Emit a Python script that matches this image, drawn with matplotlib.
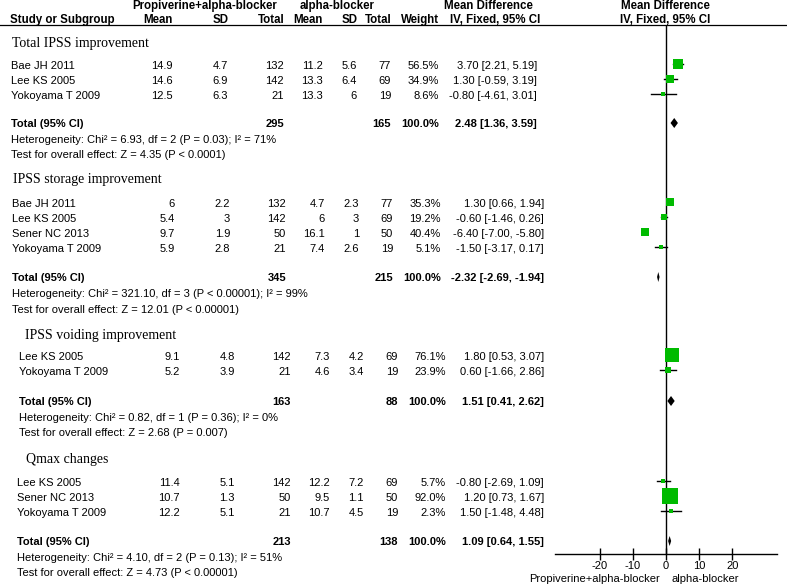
import numpy as np
import matplotlib
matplotlib.use("Agg")
import matplotlib.pyplot as plt

# ---- data ----
sections = ["Total IPSS improvement", "IPSS storage improvement",
            "IPSS voiding improvement", "Qmax changes"]
section_of = [0, 0, 0, 1, 1, 1, 1, 2, 2, 3, 3, 3]
studies = ["Bae JH 2011", "Lee KS 2005", "Yokoyama T 2009",
           "Bae JH 2011", "Lee KS 2005", "Sener NC 2013", "Yokoyama T 2009",
           "Lee KS 2005", "Yokoyama T 2009",
           "Lee KS 2005", "Sener NC 2013", "Yokoyama T 2009"]
exp_mean = ["14.9", "14.6", "12.5", "6", "5.4", "9.7", "5.9", "9.1", "5.2", "11.4", "10.7", "12.2"]
exp_sd = ["4.7", "6.9", "6.3", "2.2", "3", "1.9", "2.8", "4.8", "3.9", "5.1", "1.3", "5.1"]
exp_n = [132, 142, 21, 132, 142, 50, 21, 142, 21, 142, 50, 21]
ctl_mean = ["11.2", "13.3", "13.3", "4.7", "6", "16.1", "7.4", "7.3", "4.6", "12.2", "9.5", "10.7"]
ctl_sd = ["5.6", "6.4", "6", "2.3", "3", "1", "2.6", "4.2", "3.4", "7.2", "1.1", "4.5"]
ctl_n = [77, 69, 19, 77, 69, 50, 19, 69, 19, 69, 50, 19]
weight = [56.5, 34.9, 8.6, 35.3, 19.2, 40.4, 5.1, 76.1, 23.9, 5.7, 92.0, 2.3]
md = [3.70, 1.30, -0.80, 1.30, -0.60, -6.40, -1.50, 1.80, 0.60, -0.80, 1.20, 1.50]
ci_lo = [2.21, -0.59, -4.61, 0.66, -1.46, -7.00, -3.17, 0.53, -1.66, -2.69, 0.73, -1.48]
ci_hi = [5.19, 3.19, 3.01, 1.94, 0.26, -5.80, 0.17, 3.07, 2.86, 1.09, 1.67, 4.48]

tot_exp_n = [295, 345, 163, 213]
tot_ctl_n = [165, 215, 88, 138]
tot_md = [2.48, -2.32, 1.51, 1.09]
tot_lo = [1.36, -2.69, 0.41, 0.64]
tot_hi = [3.59, -1.94, 2.62, 1.55]
heterogeneity = ["Heterogeneity: Chi\u00b2 = 6.93, df = 2 (P = 0.03); I\u00b2 = 71%",
                 "Heterogeneity: Chi\u00b2 = 321.10, df = 3 (P < 0.00001); I\u00b2 = 99%",
                 "Heterogeneity: Chi\u00b2 = 0.82, df = 1 (P = 0.36); I\u00b2 = 0%",
                 "Heterogeneity: Chi\u00b2 = 4.10, df = 2 (P = 0.13); I\u00b2 = 51%"]
overall = ["Test for overall effect: Z = 4.35 (P < 0.0001)",
           "Test for overall effect: Z = 12.01 (P < 0.00001)",
           "Test for overall effect: Z = 2.68 (P = 0.007)",
           "Test for overall effect: Z = 4.73 (P < 0.00001)"]
xticks = [-20, -10, 0, 10, 20]

# ---- layout (pixels, y downwards) ----
W, H = 787, 586
title_y = [43, 180, 335, 459]
title_x = [12, 13, 25, 26]
row_y = [66, 81, 96, 204, 219, 234, 249, 357, 372, 483, 498, 513]
total_y = [124, 278, 402, 542]
het_y = [140, 294, 418, 558]
test_y = [155, 310, 433, 573]
name_x = [11, 12, 19, 17]
col_shift = [-2, 0, 5, 5]
ci_x = [537, 544, 544, 544]
cols = {"me": 175, "se": 230, "ne": 286, "mc": 325, "sc": 359, "nc": 393, "w": 441}

GREEN = "#00bb00"
SANS = "Liberation Sans"
SERIF = "Liberation Serif"
FS = 8

fig = plt.figure(figsize=(W / 100, H / 100), dpi=100)
ax = fig.add_axes([0, 0, 1, 1])
ax.set_xlim(0, W)
ax.set_ylim(H, 0)
ax.axis("off")


def txt(x, y, s, ha="left", bold=False, size=FS, family=SANS):
    ax.text(x, y, s, ha=ha, va="center", fontsize=size, family=family,
            fontweight="bold" if bold else "normal")


# header
txt(205, 6, "Propiverine+alpha-blocker", ha="center", bold=True, size=8.3)
txt(337, 6, "alpha-blocker", ha="center", bold=True, size=8.3)
txt(488, 6, "Mean Difference", ha="center", bold=True, size=8.3)
txt(665, 6, "Mean Difference", ha="center", bold=True, size=8.3)
txt(10, 20, "Study or Subgroup", bold=True, size=8.3)
txt(158, 20, "Mean", ha="center", bold=True, size=8.3)
txt(221, 20, "SD", ha="center", bold=True, size=8.3)
txt(285, 20, "Total", ha="right", bold=True, size=8.3)
txt(308, 20, "Mean", ha="center", bold=True, size=8.3)
txt(350, 20, "SD", ha="center", bold=True, size=8.3)
txt(392, 20, "Total", ha="right", bold=True, size=8.3)
txt(439, 20, "Weight", ha="right", bold=True, size=8.3)
txt(495, 20, "IV, Fixed, 95% CI", ha="center", bold=True, size=8.3)
txt(665, 20, "IV, Fixed, 95% CI", ha="center", bold=True, size=8.3)
ax.plot([0, W], [25, 25], color="black", lw=0.9)

# table body
for s, name in enumerate(sections):
    txt(title_x[s], title_y[s], name, size=10, family=SERIF)
for i, st in enumerate(studies):
    s = section_of[i]
    d = col_shift[s]
    y = row_y[i]
    txt(name_x[s], y, st)
    txt(cols["me"] + d, y, exp_mean[i], ha="right")
    txt(cols["se"] + d, y, exp_sd[i], ha="right")
    txt(cols["ne"] + d, y, str(exp_n[i]), ha="right")
    txt(cols["mc"] + d, y, ctl_mean[i], ha="right")
    txt(cols["sc"] + d, y, ctl_sd[i], ha="right")
    txt(cols["nc"] + d, y, str(ctl_n[i]), ha="right")
    txt(cols["w"] + d, y, f"{weight[i]:.1f}%", ha="right")
    txt(ci_x[s], y, f"{md[i]:.2f} [{ci_lo[i]:.2f}, {ci_hi[i]:.2f}]", ha="right")
for s in range(len(sections)):
    d = col_shift[s]
    y = total_y[s]
    txt(name_x[s], y, "Total (95% CI)", bold=True)
    txt(cols["ne"] + d, y, str(tot_exp_n[s]), ha="right", bold=True)
    txt(cols["nc"] + d, y, str(tot_ctl_n[s]), ha="right", bold=True)
    txt(cols["w"] + d, y, "100.0%", ha="right", bold=True)
    txt(ci_x[s], y, f"{tot_md[s]:.2f} [{tot_lo[s]:.2f}, {tot_hi[s]:.2f}]", ha="right", bold=True)
    txt(name_x[s], het_y[s], heterogeneity[s])
    txt(name_x[s], test_y[s], overall[s])

txt(660, 579, "Propiverine+alpha-blocker", ha="right")
txt(671, 579, "alpha-blocker", ha="left")

# forest panel
top, bottom = 25, 554
fx = fig.add_axes([555 / W, (H - bottom) / H, 222 / W, (bottom - top) / H])
fx.set_xlim(-33.4, 33.4)
fx.set_ylim(bottom, top)
fx.patch.set_alpha(0)
for sp in ["top", "left", "right"]:
    fx.spines[sp].set_visible(False)
fx.spines["bottom"].set_linewidth(1)
fx.set_yticks([])
fx.set_xticks(xticks)
fx.set_xticklabels([str(t) for t in xticks], fontsize=FS, family=SANS)
fx.tick_params(axis="x", direction="inout", length=8, width=1, pad=1)
fx.axvline(0, color="black", lw=1)

for i in range(len(studies)):
    y = row_y[i] - 2
    fx.plot([ci_lo[i], ci_hi[i]], [y, y], color="black", lw=1)
    side = 3 + 14 * weight[i] / 100
    fx.plot(md[i], y, marker="s", ms=side * 0.72, color=GREEN, mec=GREEN, mew=0)
for s in range(len(sections)):
    y = total_y[s] - 1
    fx.fill([tot_lo[s], tot_md[s], tot_hi[s], tot_md[s]], [y, y - 5, y, y + 5],
            color="black", lw=0)

fig.savefig("out.png", dpi=100)
